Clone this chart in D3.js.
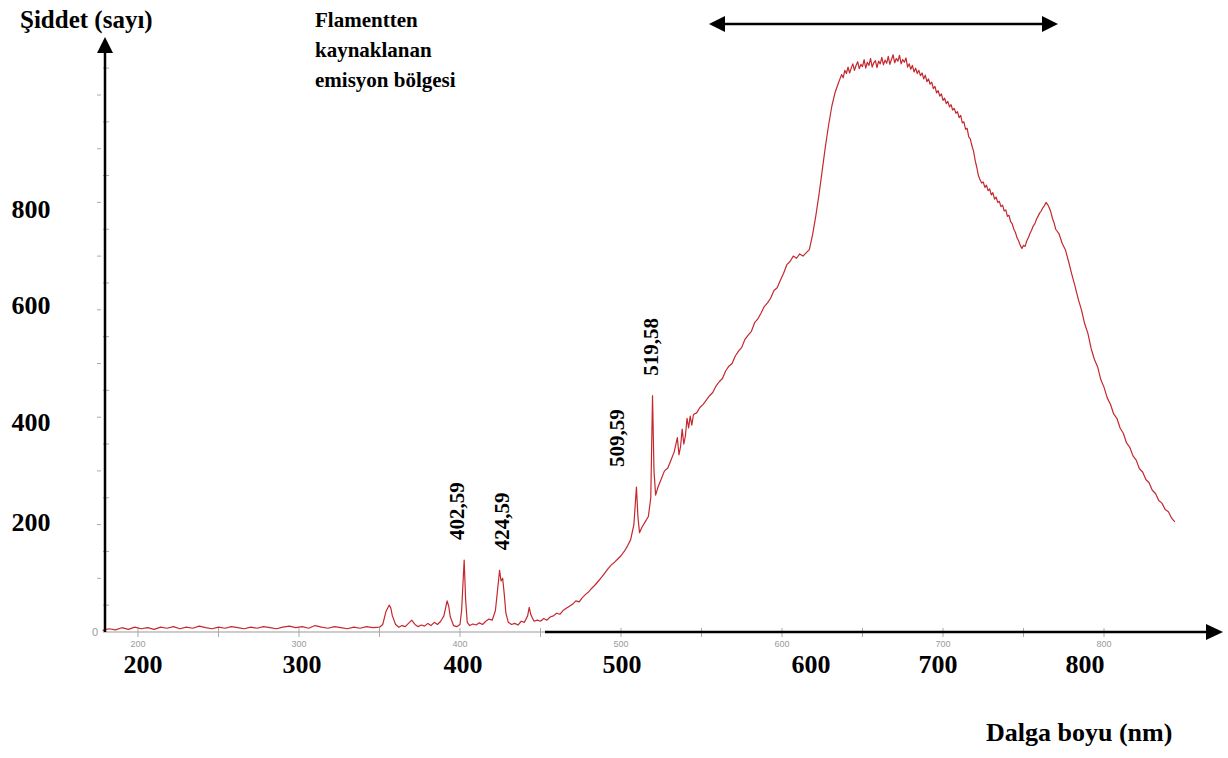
<!DOCTYPE html>
<html>
<head>
<meta charset="UTF-8">
<title>Emisyon spektrumu</title>
<script src="https://cdn.jsdelivr.net/npm/d3@7"></script>
<style>
  body { margin: 0; background: #fff; }
  svg { display: block; }
  .big { font-family: "Liberation Serif", "Times New Roman", serif; font-weight: bold; fill: #000; }
  .faint { font-family: "Liberation Sans", Arial, sans-serif; fill: #9a9a9a; }
</style>
</head>
<body>
<script>
// measured spectrum, [wavelength nm, counts]
var spectrum = [
  [178,3],[182,6],[186,4],[190,8],[194,5],[198,9],[202,6],[206,8],[210,5],[214,9],
  [218,7],[222,10],[226,6],[230,9],[234,7],[238,11],[242,8],[246,6],[250,9],[254,7],
  [258,10],[262,8],[266,6],[270,9],[274,7],[278,10],[282,8],[286,6],[290,9],[294,11],
  [298,8],[302,10],[306,7],[310,12],[314,9],[318,7],[322,10],[326,8],[330,6],[334,9],
  [338,7],[342,10],[346,8],[350,9],[352,14],[354,38],[356,50],[357,45],[358,30],[360,14],
  [362,9],[364,12],[366,10],[368,16],[370,22],[372,14],[374,10],[376,13],[378,11],[380,16],
  [382,12],[384,18],[386,14],[388,20],[390,30],[392,58],[393,48],[394,28],[396,12],[398,10],
  [400,14],[401,40],[402.59,134],[403.5,60],[404.5,18],[406,12],[408,15],[410,13],[412,17],[414,14],
  [416,20],[418,24],[420,22],[422,40],[424.59,115],[425.5,95],[426.5,100],[427.5,70],[428.5,35],[430,18],
  [432,14],[434,16],[436,13],[438,20],[440,18],[442,30],[443,46],[444,32],[446,20],[448,22],
  [450,20],[452,25],[454,22],[456,28],[458,30],[460,35],[462,33],[464,40],[466,44],[468,48],
  [470,52],[472,58],[474,56],[476,64],[478,70],[480,75],[482,82],[484,88],[486,95],[488,102],
  [490,110],[492,118],[494,125],[496,130],[498,136],[500,142],[502,150],[504,160],[506,172],[508,200],
  [509.59,270],[510.5,215],[511.5,185],[513,195],[515,205],[517,215],[518.5,250],[519.58,440],[520.5,300],[521.5,255],
  [523,270],[525,285],[527,300],[529,305],[531,320],[533,335],[535,362],[536,330],[537,345],[538,378],
  [539,350],[540,365],[541,398],[542,380],[543,402],[544,385],[545,405],[547,408],[549,418],[551,424],
  [553,432],[555,440],[557,446],[559,458],[561,466],[563,472],[565,486],[567,495],[569,500],[571,514],
  [573,523],[575,530],[577,545],[579,553],[581,560],[583,576],[585,583],[587,594],[589,606],[591,613],
  [593,622],[595,636],[597,641],[599,655],[601,668],[603,684],[605,690],[607,700],[609,696],[611,704],
  [613,700],[615,706],[617,712],[619,740],[621,775],[623,815],[625,860],[627,905],[629,945],[631,980],
  [633,1005],[635,1022],[636,1030],[637,1038],[638,1032],[639,1046],[640,1040],[641,1052],[642,1041],[643,1050],
  [644,1058],[645,1046],[646,1055],[647,1062],[648,1049],[649,1057],[650,1053],[651,1066],[652,1050],[653,1061],
  [654,1055],[655,1068],[656,1052],[657,1060],[658,1064],[659,1051],[660,1063],[661,1058],[662,1070],[663,1056],
  [664,1065],[665,1059],[666,1072],[667,1057],[668,1066],[669,1075],[670,1060],[671,1068],[672,1063],[673,1074],
  [674,1058],[675,1066],[676,1061],[677,1069],[678,1052],[679,1058],[680,1048],[681,1055],[682,1043],[683,1050],
  [684,1040],[685,1046],[686,1036],[687,1041],[688,1030],[689,1037],[690,1025],[691,1030],[692,1020],[693,1024],
  [694,1012],[695,1016],[696,1004],[697,1008],[698,998],[699,1002],[700,990],[701,994],[702,984],[703,988],
  [704,978],[705,982],[706,972],[707,975],[708,966],[709,969],[710,958],[711,962],[712,948],[713,950],
  [714,936],[715,938],[716,922],[717,918],[718,905],[719,895],[720,878],[721,865],[722,850],[723,842],
  [724,836],[725,838],[726,828],[727,832],[728,822],[729,825],[730,814],[731,818],[732,806],[733,810],
  [734,800],[735,802],[736,792],[737,795],[738,784],[739,786],[740,774],[741,776],[742,764],[743,760],
  [744,750],[745,744],[746,734],[747,728],[748,720],[749,714],[750,720],[751,718],[752,728],[753,734],
  [754,742],[755,748],[756,756],[757,760],[758,768],[759,774],[760,780],[761,784],[762,790],[763,794],
  [764,800],[765,796],[766,790],[767,782],[768,770],[769,762],[770,750],[772,742],[774,724],[776,712],
  [778,690],[780,666],[782,644],[784,620],[786,600],[788,574],[790,556],[792,528],[794,508],[796,494],
  [798,470],[800,456],[802,436],[804,424],[806,406],[808,398],[810,380],[812,370],[814,352],[816,344],
  [818,328],[820,320],[822,304],[824,298],[826,284],[828,278],[830,264],[832,258],[834,245],[836,240],
  [838,228],[840,224],[842,212],[844,205]
];

var xTicks = [200, 250, 300, 350, 400, 450, 500, 550, 600, 650, 700, 750, 800];
var xLabels = [200, 300, 400, 500, 600, 700, 800];
var yTicks = [50, 100, 150, 200, 250, 300, 350, 400, 450, 500, 550, 600, 650, 700, 750, 800, 850, 900, 950, 1000, 1050];
var yLabels = [200, 400, 600, 800];
var peaks = [402.59, 424.59, 509.59, 519.58];
var peakNames = ["402,59", "424,59", "509,59", "519,58"];

// the bold labels were pasted by hand, so they sit a bit off the ticks (px)
var xLabelNudge = [5, 3, 3, 1, 29, -5, -19];
var yLabelNudge = [-3, 5, -5, 6];
var peakNudge = [-6, 3, -18, -1];

var W = 1228, H = 758;
var x = d3.scaleLinear().domain([200, 800]).range([138, 1104]);
var y = d3.scaleLinear().domain([0, 1000]).range([632, 95]);
var y0 = y(0);

var svg = d3.select("body").append("svg")
    .attr("width", W)
    .attr("height", H);

// original (faint) plot axes
svg.append("line")
    .attr("x1", 103).attr("x2", 1175)
    .attr("y1", y0).attr("y2", y0)
    .attr("stroke", "#999").attr("stroke-width", 1);

svg.selectAll("line.xt")
    .data(xTicks)
  .enter().append("line")
    .attr("class", "xt")
    .attr("x1", function(d) { return x(d); })
    .attr("x2", function(d) { return x(d); })
    .attr("y1", y0 - 4)
    .attr("y2", y0 + 5)
    .attr("stroke", "#aaa");

svg.selectAll("text.xf")
    .data(xLabels)
  .enter().append("text")
    .attr("class", "faint xf")
    .attr("x", function(d) { return x(d); })
    .attr("y", y0 + 15)
    .attr("text-anchor", "middle")
    .attr("font-size", 9)
    .text(function(d) { return d; });

svg.append("text")
    .attr("class", "faint")
    .attr("x", 95).attr("y", y0 + 4)
    .attr("text-anchor", "middle")
    .attr("font-size", 11)
    .text("0");

svg.selectAll("line.yt")
    .data(yTicks)
  .enter().append("line")
    .attr("class", "yt")
    .attr("x1", function(d) { return d % 100 === 0 ? 97 : 103; })
    .attr("x2", function(d) { return d % 100 === 0 ? 101 : 109; })
    .attr("y1", function(d) { return y(d); })
    .attr("y2", function(d) { return y(d); })
    .attr("stroke", "#aaa");

// spectrum
var line = d3.line()
    .x(function(d) { return x(d[0]); })
    .y(function(d) { return y(d[1]); });

svg.append("path")
    .datum(spectrum)
    .attr("d", line)
    .attr("fill", "none")
    .attr("stroke", "#c4282e")
    .attr("stroke-width", 1.2)
    .attr("stroke-linejoin", "round");

// black axes with arrows
svg.append("line")
    .attr("x1", 105).attr("x2", 105)
    .attr("y1", y0).attr("y2", 50)
    .attr("stroke", "#000").attr("stroke-width", 2.5);
svg.append("path")
    .attr("d", "M105,37 L113,53 L97,53 Z")
    .attr("fill", "#000");

svg.append("line")
    .attr("x1", 545).attr("x2", 1208)
    .attr("y1", y0).attr("y2", y0)
    .attr("stroke", "#000").attr("stroke-width", 2.5);
svg.append("path")
    .attr("d", "M1223," + y0 + " L1206," + (y0 - 8) + " L1206," + (y0 + 8) + " Z")
    .attr("fill", "#000");

// region arrow
svg.append("line")
    .attr("x1", 720).attr("x2", 1047)
    .attr("y1", 24).attr("y2", 24)
    .attr("stroke", "#000").attr("stroke-width", 2.5);
svg.append("path")
    .attr("d", "M709,24 L725,16 L725,32 Z M1058,24 L1042,16 L1042,32 Z")
    .attr("fill", "#000");

// pasted labels
svg.selectAll("text.xl")
    .data(xLabels)
  .enter().append("text")
    .attr("class", "big xl")
    .attr("x", function(d, i) { return x(d) + xLabelNudge[i]; })
    .attr("y", 673)
    .attr("text-anchor", "middle")
    .attr("font-size", 26)
    .text(function(d) { return d; });

svg.selectAll("text.yl")
    .data(yLabels)
  .enter().append("text")
    .attr("class", "big yl")
    .attr("x", 31)
    .attr("y", function(d, i) { return y(d) + yLabelNudge[i]; })
    .attr("dy", "0.35em")
    .attr("text-anchor", "middle")
    .attr("font-size", 26)
    .text(function(d) { return d; });

svg.selectAll("text.pk")
    .data(peaks)
  .enter().append("text")
    .attr("class", "big pk")
    .attr("transform", function(d, i) {
        var top = d3.least(spectrum, function(p) { return Math.abs(p[0] - d); });
        return "translate(" + (x(d) + peakNudge[i] + 6) + "," + (y(top[1]) - 20) + ") rotate(-90)";
    })
    .attr("font-size", 21)
    .text(function(d, i) { return peakNames[i]; });

svg.append("text")
    .attr("class", "big")
    .attr("x", 20).attr("y", 28)
    .attr("font-size", 25)
    .text("Şiddet (sayı)");

svg.append("text")
    .attr("class", "big")
    .attr("x", 986).attr("y", 741)
    .attr("font-size", 26)
    .text("Dalga boyu (nm)");

svg.append("text")
    .attr("class", "big")
    .attr("font-size", 21)
    .selectAll("tspan")
    .data(["Flamentten", "kaynaklanan", "emisyon bölgesi"])
  .enter().append("tspan")
    .attr("x", 315)
    .attr("y", function(d, i) { return 27 + i * 30; })
    .text(function(d) { return d; });
</script>
</body>
</html>
